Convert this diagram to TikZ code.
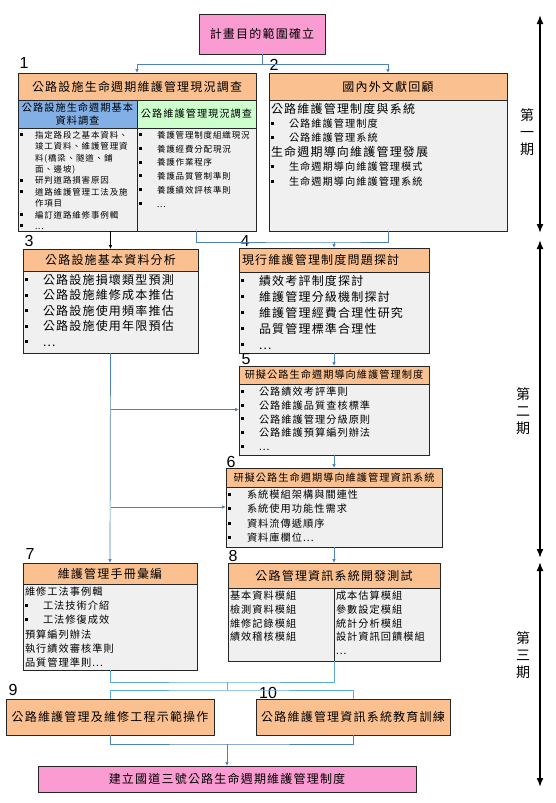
\documentclass[tikz,border=0pt]{standalone}
\usepackage{fontspec}
\newfontfamily\cjk[LetterSpace=10]{Noto Sans CJK TC}
\newfontfamily\numf{Liberation Sans}
\usetikzlibrary{arrows.meta,positioning}
\definecolor{hdor}{RGB}{250,192,144}
\definecolor{bdgr}{RGB}{240,240,240}
\definecolor{pk}{RGB}{250,155,210}
\definecolor{sbl}{RGB}{130,175,230}
\definecolor{sgr}{RGB}{204,255,204}
\definecolor{lnb}{RGB}{79,129,189}
\definecolor{lnc}{RGB}{95,170,225}
\newcommand{\topbox}[3]{\parbox[c][#2][t]{#1}{#3}}
\newcommand{\bul}[1][17pt]{\makebox[#1][l]{\rule[0.25em]{3pt}{3pt}}}
\newcommand{\hin}[1][17pt]{\hspace*{#1}}
\newcommand{\fLg}{\cjk\fontsize{12}{14}\selectfont}
\newcommand{\fMd}{\cjk\fontsize{10.2}{13}\selectfont}

\begin{document}
\begin{tikzpicture}[x=1pt,y=-1pt,>={Latex[length=4pt,width=3.5pt]},
 hd/.style={draw=black!85,line width=0.8pt,fill=hdor,inner sep=0pt,outer sep=0pt,align=center,font=\fLg},
 bd/.style={draw=black!85,line width=0.8pt,fill=bdgr,inner xsep=2pt,inner ysep=3pt,outer sep=0pt,font=\cjk\fontsize{12}{15.5}\selectfont},
 tp/.style={hd,fill=pk},
 lb/.style={font=\numf\fontsize{16}{16}\selectfont,inner sep=0pt},
 pd/.style={font=\cjk\fontsize{14}{17}\selectfont,align=center,inner sep=0pt},
 cn/.style={draw=lnb,line width=0.7pt},
 cl/.style={draw=lnc,line width=0.7pt},
 per/.style={line width=1.6pt,{Latex[length=9pt,width=7pt]}-{Latex[length=9pt,width=7pt]}}]
\path[use as bounding box,fill=white] (0,0) rectangle (555,803);

\node[tp,anchor=north west,minimum width=126,minimum height=40] (goal) at (199,14) {計畫目的範圍確立};

\node[hd,anchor=north west,minimum width=238,minimum height=27] (h1) at (18,73) {公路設施生命週期維護管理現況調查};
\node[hd,fill=sbl,anchor=north west,minimum width=119,minimum height=28,font=\fMd] (s1a) at (h1.south west) {公路設施生命週期基本\\資料調查};
\node[hd,fill=sgr,right=0pt of s1a,minimum width=119,minimum height=28,font=\fMd] (s1b) {公路維護管理現況調查};
\node[bd,below=0pt of s1a,font=\cjk\fontsize{8.5}{11.4}\selectfont] (b1a) {\topbox{115pt}{97pt}{%
\bul[15pt]指定路段之基本資料、\\
\hin[15pt]竣工資料、維護管理資\\
\hin[15pt]料(橋梁、隧道、鋪\\
\hin[15pt]面、邊坡)\\
\bul[15pt]研判道路損害原因\\
\bul[15pt]道路維護管理工法及施\\
\hin[15pt]作項目\\
\bul[15pt]編訂道路維修事例輯\\
\bul[15pt]...}};
\node[bd,below=0pt of s1b,font=\cjk\fontsize{8.5}{13.8}\selectfont] (b1b) {\topbox{115pt}{97pt}{%
\bul[18pt]養護管理制度組織現況\\
\bul[18pt]養護經費分配現況\\
\bul[18pt]養護作業程序\\
\bul[18pt]養護品質管制準則\\
\bul[18pt]養護績效評核準則\\
\bul[18pt]...}};

\node[hd,anchor=north west,minimum width=238,minimum height=27] (h2) at (269,73) {國內外文獻回顧};
\node[bd,below=0pt of h2,font=\cjk\fontsize{10.2}{14.4}\selectfont] (b2) {\topbox{234pt}{125pt}{%
{\fLg 公路維護管理制度與系統}\\
\bul[18pt]公路維護管理制度\\
\bul[18pt]公路維護管理系統\\
{\fLg 生命週期導向維護管理發展}\\
\bul[18pt]生命週期導向維護管理模式\\
\bul[18pt]生命週期導向維護管理系統}};

\node[hd,anchor=north west,minimum width=175,minimum height=22] (h3) at (23,249) {公路設施基本資料分析};
\node[bd,below=0pt of h3] (b3) {\topbox{171pt}{76pt}{%
\bul[18pt]公路設施損壞類型預測\\
\bul[18pt]公路設施維修成本推估\\
\bul[18pt]公路設施使用頻率推估\\
\bul[18pt]公路設施使用年限預估\\
\bul[18pt]...}};

\node[hd,anchor=north west,minimum width=190,minimum height=24,text width=184pt,align=left] (h4) at (239,248) {現行維護管理制度問題探討};
\node[bd,below=0pt of h4,font=\cjk\fontsize{12}{16}\selectfont] (b4) {\topbox{186pt}{75pt}{%
\bul[18pt]績效考評制度探討\\
\bul[18pt]維護管理分級機制探討\\
\bul[18pt]維護管理經費合理性研究\\
\bul[18pt]品質管理標準合理性\\
\bul[18pt]...}};

\node[hd,anchor=north west,minimum width=190,minimum height=18,font=\fMd] (h5) at (239,366) {研擬公路生命週期導向維護管理制度};
\node[bd,below=0pt of h5,font=\cjk\fontsize{10.2}{13.7}\selectfont] (b5) {\topbox{186pt}{65pt}{%
\bul[18pt]公路績效考評準則\\
\bul[18pt]公路維護品質查核標準\\
\bul[18pt]公路維護管理分級原則\\
\bul[18pt]公路維護預算編列辦法\\
\bul[18pt]...}};

\node[hd,anchor=north west,minimum width=216,minimum height=19,font=\fMd] (h6) at (226,468) {研擬公路生命週期導向維護管理資訊系統};
\node[bd,below=0pt of h6,font=\cjk\fontsize{10.2}{14.3}\selectfont] (b6) {\topbox{212pt}{54pt}{%
\bul[19pt]系統模組架構與關連性\\
\bul[19pt]系統使用功能性需求\\
\bul[19pt]資料流傳遞順序\\
\bul[19pt]資料庫欄位...}};

\node[hd,anchor=north west,minimum width=174,minimum height=21] (h7) at (23,563) {維護管理手冊彙編};
\node[bd,below=0pt of h7,font=\cjk\fontsize{10.2}{14.2}\selectfont] (b7) {\topbox{170pt}{80pt}{%
維修工法事例輯\\
\bul[18pt]工法技術介紹\\
\bul[18pt]工法修復成效\\
預算編列辦法\\
執行績效審核準則\\
品質管理準則...}};

\node[hd,anchor=north west,minimum width=212,minimum height=25] (h8) at (228,563) {公路管理資訊系統開發測試};
\node[bd,anchor=north west,font=\cjk\fontsize{10.2}{13.7}\selectfont] (b8a) at (h8.south west) {\topbox{102pt}{67pt}{%
基本資料模組\\
檢測資料模組\\
維修記錄模組\\
績效稽核模組}};
\node[bd,right=0pt of b8a,font=\cjk\fontsize{10.2}{13.7}\selectfont] (b8b) {\topbox{102pt}{67pt}{%
成本估算模組\\
參數設定模組\\
統計分析模組\\
設計資訊回饋模組\\
...}};

\node[hd,anchor=north west,minimum width=208,minimum height=36] (r9) at (6,699) {公路維護管理及維修工程示範操作};
\node[hd,anchor=north west,minimum width=194,minimum height=36] (r10) at (256,699) {公路維護管理資訊系統教育訓練};
\node[tp,anchor=north west,minimum width=378,minimum height=26] (fin) at (38,766) {建立國道三號公路生命週期維護管理制度};

\node[lb] (n1) at (24,63) {1};
\node[lb] (n2) at (274,65) {2};
\node[lb] (n3) at (29,241) {3};
\node[lb] (n4) at (245,241) {4};
\node[lb] (n5) at (246,359) {5};
\node[lb] (n6) at (231,462) {6};
\node[lb] (n7) at (30,554) {7};
\node[lb] (n8) at (233,556) {8};
\node[lb] (n9) at (13,690) {9};
\node[lb] (n10) at (268,693) {10};

\node[pd] (q1) at (527,132) {第\\一\\期};
\node[pd] (q2) at (523,411) {第\\二\\期};
\node[pd] (q3) at (523,655) {第\\三\\期};
\coordinate (p1s) at (540,15);
\coordinate (p1e) at (540,233);
\coordinate (p2s) at (540,240);
\coordinate (p2e) at (540,558);
\coordinate (p3s) at (540,562);
\coordinate (p3e) at (540,787);
\draw[per] (p1s) -- (p1e);
\draw[per] (p2s) -- (p2e);
\draw[per] (p3s) -- (p3e);

\coordinate (j1) at (262,64);
\draw[cn] (goal.south) -- (j1);
\draw[cn,->] (j1) -| (h1.north);
\draw[cn,->] (j1) -| (h2.north);
\draw[->,line width=0.7pt] (h3.north |- b1a.south) -- (h3.north);
\coordinate (j2) at (334,242);
\draw[cn] (b1b.south) |- (j2) -| (b2.south);
\draw[cn,->] (j2) -- (h4.north);
\draw[cn,->] (b4.south) -- (h5.north);
\draw[cn,->] (b5.south) -- (h6.north);
\draw[cn,->] (b6.south) -- (h8.north);
\draw[cn,->] (b3.south) -- (h7.north);
\coordinate (k5) at ([yshift=10pt]b5.west);
\coordinate (k6) at ([yshift=10pt]b6.west);
\draw[cn,->] (b3.south |- k5) -- (k5);
\draw[cn,->] (b3.south |- k6) -- (k6);

\coordinate (m1) at (227,682);
\coordinate (m2) at (227,690);
\coordinate (m3) at (227,744);
\draw[cl] (b7.south) |- (m1) -| (b8a.south east);
\draw[cl] (m1) -- (m2);
\draw[cl] (r9.north) |- (m2) -| (r10.north);
\draw[cn] (r9.south) |- (m3) -| (r10.south);
\draw[cn,->] (m3) -- (fin.north);
\end{tikzpicture}
\end{document}
